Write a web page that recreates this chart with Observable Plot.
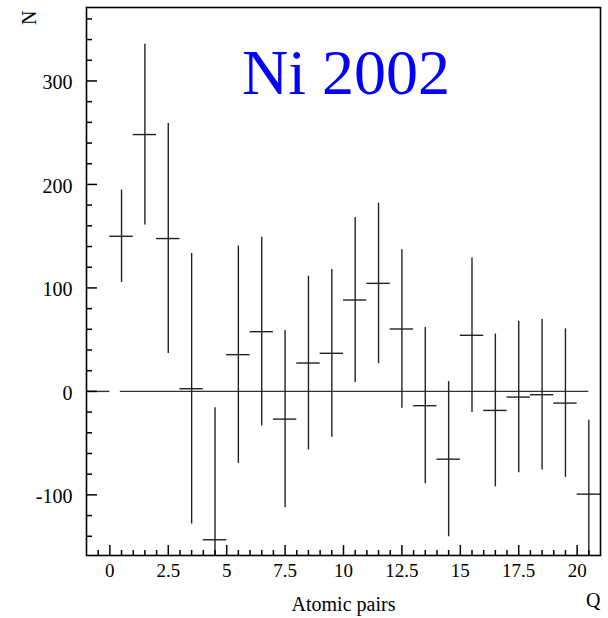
<!DOCTYPE html>
<html>
<head>
<meta charset="utf-8">
<script src="https://cdn.jsdelivr.net/npm/d3@7"></script>
<script src="https://cdn.jsdelivr.net/npm/@observablehq/plot@0.6"></script>
<style>
  html, body { margin: 0; padding: 0; background: #fff; }
  #chart svg { display: block; }
  #chart svg, #chart svg text, #chart svg g { font-family: "Liberation Serif", "Times New Roman", Times, serif !important; }
</style>
</head>
<body>
<div id="chart"></div>
<script>
// Bin centres (Q) and histogram contents with errors
const binCenters = [0.5, 1.5, 2.5, 3.5, 4.5, 5.5, 6.5, 7.5, 8.5, 9.5, 10.5, 11.5, 12.5, 13.5, 14.5, 15.5, 16.5, 17.5, 18.5, 19.5, 20.5];
const binValues  = [149.9, 248.2, 147.7, 2.6, -143.4, 35.5, 57.7, -26.8, 27.4, 36.8, 88.3, 104.4, 60.3, -13.8, -65.5, 54.2, -18.4, -5.5, -3.2, -11.3, -99.3];
const binErrors  = [44.7, 87.3, 111.2, 130.7, 127.6, 105.0, 91.2, 85.6, 84.0, 81.0, 79.8, 77.5, 76.5, 75.5, 75.0, 74.7, 73.8, 73.2, 72.7, 71.8, 71.3];
const binWidth = 1;

// Zero reference line pieces [x1, x2]
const zeroLineX1 = [-1, 0.45];
const zeroLineX2 = [0, 20.5];

// Axes
const xDomain = [-1, 21];
const yDomain = [-158.6, 371];
const xMajorTicks = [0, 2.5, 5, 7.5, 10, 12.5, 15, 17.5, 20];
const xMinorTicks = d3.range(-0.5, 21, 0.5).filter(v => !xMajorTicks.includes(v));
const yMajorTicks = [-100, 0, 100, 200, 300];
const yMinorTicks = d3.range(-140, 371, 20).filter(v => !yMajorTicks.includes(v));

const titleText = "Ni 2002";
const xTitle = "Atomic pairs";
const xUnitLabel = "Q";
const yTitle = "N";

const bins = binCenters.map((c, i) => ({c, v: binValues[i], e: binErrors[i]}));
const zeroSegs = zeroLineX1.map((x1, i) => ({x1, x2: zeroLineX2[i]}));

const serif = "Liberation Serif";
const fmt = d => String(d);

const chart = Plot.plot({
  width: 608,
  height: 618,
  marginLeft: 86,
  marginRight: 8,
  marginTop: 7,
  marginBottom: 63,
  style: {background: "#fff", color: "#000", fontFamily: serif},
  x: {domain: xDomain},
  y: {domain: yDomain},
  marks: [
    // zero line
    Plot.ruleY(zeroSegs, {y: 0, x1: "x1", x2: "x2", stroke: "#333", strokeWidth: 1.4}),
    // error bars
    Plot.ruleX(bins, {x: "c", y1: d => d.v - d.e, y2: d => d.v + d.e, stroke: "#222", strokeWidth: 1.4, clip: true}),
    // bin-width horizontal bars
    Plot.ruleY(bins, {y: "v", x1: d => d.c - binWidth / 2, x2: d => d.c + binWidth / 2, stroke: "#222", strokeWidth: 1.4, clip: true}),
    // axis ticks (inside)
    Plot.axisX({ticks: xMajorTicks, tickSize: -10, tickFormat: () => "", label: null, strokeWidth: 1.5}),
    Plot.axisX({ticks: xMinorTicks, tickSize: -5, tickFormat: () => "", label: null, strokeWidth: 1.5}),
    Plot.axisY({ticks: yMajorTicks, tickSize: -11, tickFormat: () => "", label: null, strokeWidth: 1.5}),
    Plot.axisY({ticks: yMinorTicks, tickSize: -6, tickFormat: () => "", label: null, strokeWidth: 1.5}),
    // tick labels
    Plot.axisX({ticks: xMajorTicks, tickSize: 0, tickPadding: 7.5, tickFormat: fmt, label: null, fontSize: 19, fill: "#000", fontFamily: serif}),
    Plot.axisY({ticks: yMajorTicks, tickSize: 0, tickPadding: 14, tickFormat: fmt, label: null, fontSize: 20, dy: 2, fill: "#000", fontFamily: serif}),
    // frame
    Plot.frame({stroke: "#000", strokeWidth: 1.6}),
    // titles
    Plot.text([titleText], {text: d => d, frameAnchor: "top", lineAnchor: "bottom", dx: 2.5, dy: 86, fontSize: 64, fill: "#0000ff", fontFamily: serif}),
    Plot.text([xTitle], {text: d => d, frameAnchor: "bottom", lineAnchor: "bottom", dy: 55, fontSize: 20, fill: "#000", fontFamily: serif}),
    Plot.text([xUnitLabel], {text: d => d, frameAnchor: "bottom-right", textAnchor: "end", lineAnchor: "bottom", dy: 51.5, fontSize: 20, fill: "#000", fontFamily: serif}),
    Plot.text([yTitle], {text: d => d, frameAnchor: "top-left", textAnchor: "end", lineAnchor: "bottom", rotate: -90, dx: -51, dy: 3, fontSize: 20, fill: "#000", fontFamily: serif})
  ]
});
document.getElementById("chart").appendChild(chart);
</script>
</body>
</html>
